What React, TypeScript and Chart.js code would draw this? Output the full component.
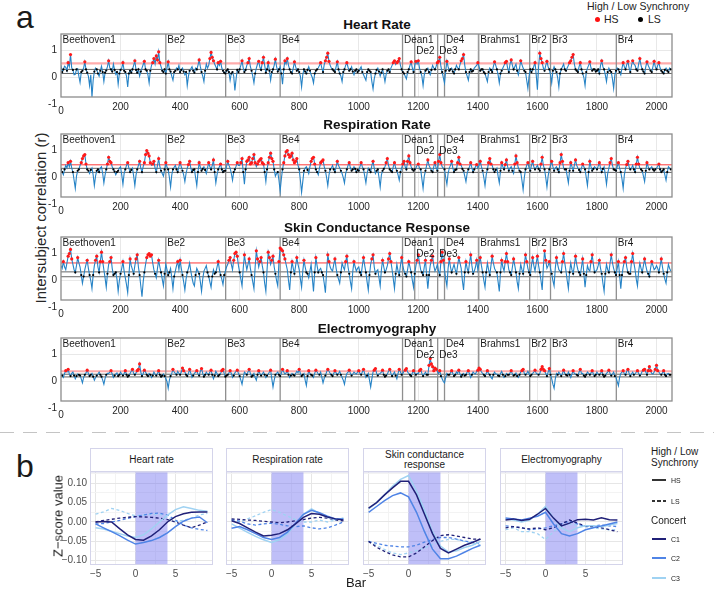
import React, { useEffect, useRef } from 'react';
import { Chart, registerables } from 'chart.js';

Chart.register(...registerables);

const FONT = '"Liberation Sans", Arial, Helvetica, sans-serif';

// ---------------- Panel a : intersubject correlation per bar ----------------
const BAR_STEP = 4; // one sample every 4 bars
const BAR_MAX = 2052;
const BAR_TICKS = [200, 400, 600, 800, 1000, 1200, 1400, 1600, 1800, 2000];
const R_TICKS = [0, 1];
const R_RANGE = [-0.72, 1.61];
const SECTION_STARTS = [0, 352, 553, 736, 1147, 1188, 1265, 1288, 1403, 1574, 1644, 1865];
const SECTION_NAMES = ['Beethoven1', 'Be2', 'Be3', 'Be4', 'Dean1', 'De2', 'De3', 'De4', 'Brahms1', 'Br2', 'Br3', 'Br4'];
const SECTION_ROWS = [0, 0, 0, 0, 0, 1, 1, 0, 0, 0, 0, 0];
const PANEL_TITLES = ['Heart Rate', 'Respiration Rate', 'Skin Conductance Response', 'Electromyography'];

const HR_R = [
  .45,.20,.30,.42,.38,.25,.55,.40,.85,.35,.28,.10,.12,.30,.33,.05,-.18,.20,.25,.35,.58,.30,.18,.05,-.30,.10,-.72,-.10,.22,.35,.30,.15,.05,.25,.42,.20,-.15,.18,.26,.40,.62,.35,.30,.22,.50,.28,.12,.20,-.25,.15,
  .28,.35,.55,.25,.20,.05,-.35,.15,.25,.18,.30,.45,.62,.28,.18,.30,.05,.22,.35,.48,.60,.30,.25,.10,-.20,.25,.45,.55,.70,.50,.80,.65,.95,.55,.40,.25,.20,.30,.15,.35,.58,.30,.22,.05,-.10,.20,.25,.35,.30,.45,
  .20,.28,.35,.22,.10,.20,-.30,.05,.25,.32,.40,.25,.18,.35,.30,.45,.65,.40,.20,.05,-.15,.25,.50,.35,.45,.70,.93,.75,.62,.50,.40,.30,.55,.45,.60,.35,.25,.18,.15,.25,.30,.20,-.10,.15,.20,.05,-.48,-.05,.28,.20,
  .30,.45,.62,.35,.20,.28,.45,.55,.70,.40,.25,.05,-.20,.15,.35,.50,.60,.38,.28,.55,.75,.45,.18,.30,.55,.25,-.10,.20,.30,.45,.68,.40,.22,.30,.40,.15,-.25,.30,.62,.50,.70,.45,.30,.20,.15,.35,.58,.40,.25,.30,
  .20,.05,-.35,.10,.30,.22,.15,.28,.40,.25,.10,.00,-.20,.15,.25,.30,.35,.45,.55,.35,.20,.48,.62,.75,.90,.60,.45,.35,.30,.25,.20,.40,.58,.30,.15,.05,-.15,.20,.30,.45,.55,.38,.25,.30,.40,.22,.10,.25,.30,.20,
  .25,.32,.40,.20,.10,.00,-.10,.20,.30,.25,.20,-.15,-.42,-.05,.15,.28,.35,.22,.05,.18,.30,.10,-.15,.12,.25,.30,.20,.35,.45,.55,.62,.48,.55,.60,.70,.45,.30,.20,.15,.05,-.05,.20,.30,.45,.58,.35,.20,.45,.60,.50,
  .62,.35,.20,.05,-.30,.10,.25,.30,.35,.20,.10,.28,.45,.35,.30,.42,.55,.60,.75,.40,.20,.00,-.20,.25,.60,.40,.25,.30,.35,.22,.15,.30,.45,.35,.30,.48,.62,.70,.85,.45,.20,.05,-.10,.20,.30,.22,.25,.35,.40,.45,
  .55,.40,.25,.30,.30,.20,.15,.00,-.15,.20,.35,.28,.20,.40,.58,.45,.30,.10,-.20,.15,.25,.35,.45,.55,.60,.35,.20,.50,.65,.45,.30,.40,.50,.25,.10,.35,.62,.48,.35,.25,.20,-.10,-.40,.05,.30,.20,.30,.42,.55,.10,
  -.45,.40,.90,.70,.55,.35,.25,.45,.60,.40,.30,.10,-.20,.25,.40,.30,.20,.00,-.35,.15,.30,.40,.50,.30,.25,.35,.45,.55,.62,.75,.85,.50,.30,.25,.20,.40,.55,.30,.15,.00,-.30,.20,.35,.45,.58,.35,.25,.30,.30,.22,
  .25,.30,.15,.45,.62,.40,.30,.10,-.15,.20,.35,.25,.20,-.05,-.40,.10,.25,.35,.30,.20,.10,.35,.55,.40,.30,.48,.60,.35,.20,.45,.62,.50,.45,.30,.25,.50,.70,.45,.30,.22,.15,.40,.58,.45,.35,.25,.20,.40,.60,.40,
  .30,.45,.55,.35,.25,.20,.15,.28,.35,.25,.20,.35,.30,
];
const RESP_R = [
  .30,.20,.10,.30,.45,.35,.55,.40,.60,.35,.20,-.10,-.40,.05,.25,.30,.45,.55,.70,.80,.85,.50,.30,.25,.15,.28,.35,.10,-.30,.05,.25,.30,.20,.35,.40,.15,-.20,.10,.30,.50,.75,.60,.55,.40,.30,.22,.10,.20,.25,.35,
  .40,.10,-.25,.15,.30,.45,.55,.35,.20,.28,.35,.05,-.30,.10,.30,.45,.60,.35,.20,.40,.55,.85,1.0,.90,.80,.55,.45,.50,.60,.35,.20,.45,.70,.40,.25,.15,.05,.30,.55,.40,.30,.00,-.35,.10,.30,.38,.45,.30,.20,.40,
  .55,.40,.25,.10,-.15,.15,.35,.48,.60,.35,.20,.28,.30,.00,-.30,.20,.55,.38,.25,.32,.40,.28,.15,.35,.55,.40,.30,.45,.65,.20,-.20,.10,.30,.40,.50,.30,.20,.25,.25,.40,.60,.45,.35,.15,-.10,.20,.30,.42,.55,.45,
  .45,.55,.70,.20,-.25,.30,.60,.65,.75,.50,.55,.70,.85,.55,.40,.50,.60,.65,.70,.55,.50,.20,-.15,.30,.55,.75,.90,.70,.60,.30,.05,.15,.20,-.10,-.50,-.05,.30,.55,.80,.95,1.0,.85,.75,.80,.90,.65,.55,.60,.70,.45,
  .30,-.10,-.55,-.15,.25,.35,.40,.28,.15,.40,.60,.70,.75,.50,.30,.20,.10,.35,.55,.60,.65,.40,.25,.00,-.30,.10,.30,.35,.45,.30,.20,.40,.60,.45,.35,.25,.15,.00,-.20,.15,.30,.45,.55,.35,.25,.30,.40,.32,.20,.28,
  .25,.40,.55,.40,.30,.05,-.20,.15,.35,.28,.20,.45,.60,.35,.15,.25,.30,.00,-.35,.10,.25,.32,.40,.55,.70,.45,.30,.25,.20,.40,.55,.35,.25,.10,-.10,.20,.35,.50,.60,.40,.30,.60,.80,.55,.40,.30,.25,.30,.35,.45,
  .50,.35,.30,-.05,-.40,.05,.25,.45,.65,.45,.35,.25,.20,.40,.55,.35,.25,.60,.85,.55,.40,.35,.30,.00,-.25,.15,.35,.45,.60,.35,.20,.28,.30,.55,.75,.50,.45,.32,.25,.05,-.15,.15,.30,.40,.55,.35,.20,.30,.40,.48,
  .35,.45,.60,.40,.25,.00,-.30,.10,.30,.55,.70,.50,.45,.30,.20,.28,.35,.05,-.20,.25,.55,.40,.30,.48,.65,.40,.25,.35,.40,.25,.15,.50,.80,.55,.35,.25,.20,-.10,-.45,.00,.30,.45,.55,.35,.25,.45,.60,.40,.30,.38,
  .45,.32,.25,.50,.75,.45,.30,.00,-.35,.05,.30,.45,.60,.40,.25,.35,.40,.30,.20,.55,.85,.60,.35,.30,.30,.05,-.20,.25,.55,.40,.25,.45,.65,.45,.35,.28,.20,.35,.50,.40,.30,.00,-.30,.20,.60,.40,.25,.32,.40,.35,
  .30,.42,.55,.35,.20,.32,.40,.10,-.25,.15,.35,.55,.70,.45,.30,.28,.25,.40,.55,.35,.20,-.05,-.40,.10,.35,.48,.60,.40,.30,.35,.45,.30,.20,.50,.75,.50,.35,.30,.25,.05,-.15,.25,.55,.40,.30,.35,.40,.30,.25,.30,
  .35,.42,.50,.30,.20,.25,.30,.10,-.10,.20,.40,.35,.30,
];
const SCR_R = [
  .55,.45,.70,.50,.40,.65,.90,1.0,1.15,.80,.60,.40,.30,.55,.85,.65,.50,.20,-.10,.15,.40,.60,.75,.45,.20,.00,-.30,.20,.55,.75,.90,.50,.30,.70,1.05,.70,.40,.10,-.25,.25,.60,.70,.85,.45,.20,.25,.30,.05,-.40,.00,
  .25,.45,.70,.35,.10,-.15,-.45,.20,.80,.55,.40,.25,.55,.80,.95,.50,.20,-.20,-.60,-.05,.30,.60,.85,.95,1.0,.90,.95,.65,.40,.25,.10,.45,.75,.50,.30,.05,-.20,.25,.60,.40,.20,.30,.45,.10,-.30,.15,.35,.55,.70,.40,
  .75,.45,.20,-.05,-.35,.05,.30,.45,.65,.35,.10,-.10,-.20,.20,.45,.35,.25,-.05,-.40,.05,.35,.45,.55,.30,.15,-.05,-.25,.15,.40,.25,.30,.50,.70,.40,.20,.05,-.15,.20,.35,.50,.60,.75,.85,.60,.40,.75,1.0,1.05,.90,.55,
  .30,.05,-.20,.45,.95,.65,.40,.60,.80,.45,.20,-.05,-.30,.50,1.1,.80,.50,.70,.85,.55,.30,-.10,-.40,.40,1.05,.85,.60,.75,.90,.50,.25,.00,-.20,.70,1.2,1.15,1.1,.95,.80,.60,.40,.00,-.35,.30,.70,.45,.25,.55,.85,.60,
  .40,.05,-.25,.35,.75,.50,.30,.25,.10,.35,.60,.10,-.40,.30,.85,.55,.30,.40,.45,.30,.20,-.10,-.45,.35,.95,.70,.50,.40,.35,.60,.80,.45,.20,.05,-.10,.30,.65,.50,.40,.70,.90,.50,.25,-.05,-.30,.35,.70,.50,.35,.45,
  .50,.30,.20,.55,.85,.55,.30,-.05,-.35,.20,.60,.80,.95,.50,.25,.35,.40,.10,-.20,.40,.75,.50,.30,.40,.55,.80,1.0,.70,.40,.05,-.30,.25,.60,.35,.20,.55,.85,.55,.35,.25,.15,.40,.70,.50,.30,.00,-.25,.25,.55,.75,
  .95,.65,.40,.30,.20,.50,.75,.20,-.30,.20,.55,.75,.90,.55,.35,.45,.60,.35,.20,.70,1.05,.75,.40,.05,-.20,.45,.80,.50,.30,.45,.60,.40,.25,.55,.85,.65,.45,.00,-.35,.30,.70,.45,.30,.65,.95,.55,.25,.35,.50,.75,
  .40,.65,.85,.55,.30,.00,-.25,.30,.65,.40,.20,.55,.90,.65,.45,.35,.30,-.05,-.40,.30,.75,.50,.35,.70,1.0,.70,.40,.30,.20,.50,.80,.55,.30,-.05,-.30,.25,.60,.40,.25,.60,.95,.70,.45,.30,.20,.55,.85,.55,.35,.65,
  .90,.55,.30,.00,-.35,.50,1.1,.75,.45,.55,.70,.45,.25,.00,-.20,.45,.85,.60,.40,.35,.30,.70,1.0,.65,.35,.00,-.30,.30,.65,.40,.25,.55,.90,.60,.40,.30,.20,.50,.80,.25,-.25,.20,.55,.40,.35,.70,.95,.60,.30,.35,
  .40,.55,.75,.45,.25,-.10,-.40,.25,.60,.40,.30,.65,.95,.65,.45,.30,.20,.45,.70,.20,-.30,.20,.50,.70,.85,.50,.30,.25,.25,.70,1.0,.65,.40,.05,-.20,.35,.65,.45,.30,.55,.80,.55,.35,.25,.15,.45,.70,.55,.40,.45,
  .55,.45,.30,.55,.80,.50,.25,.05,-.10,.30,.60,.45,.35,
];
const EMG_R = [
  .30,.22,.15,.30,.40,.35,.45,.28,.20,.30,.35,.22,.10,.20,.28,.25,.22,.10,-.05,.15,.25,.32,.42,.30,.20,.25,.30,.18,.05,.15,.22,.28,.35,.25,.18,.05,-.10,.12,.25,.30,.30,.35,.40,.28,.15,.22,.28,.32,.20,.25,
  .35,.28,.22,.30,.40,.25,.18,.22,.30,.38,.45,.30,.25,.32,.40,.45,.65,.35,.20,.30,.42,.35,.25,.20,.30,.25,.15,.22,.35,.28,.22,.30,.40,.25,.18,.22,.28,.20,.10,.00,-.25,.05,.20,.30,.45,.35,.30,.25,.38,.30,
  .25,.35,.50,.40,.35,.25,.20,.30,.45,.30,.15,.22,.30,.35,.40,.28,.22,.38,.48,.30,.18,.25,.35,.28,.25,.35,.42,.25,.10,.22,.38,.30,.20,.25,.30,.40,.45,.30,.18,.22,.25,.32,.40,.30,.15,.22,.32,.38,.42,.30,
  .20,.05,-.10,.15,.35,.30,.25,.35,.45,.30,.18,.22,.30,.15,.05,.25,.40,.30,.22,.28,.35,.25,.15,.22,.28,.35,.42,.10,-.20,.05,.25,.30,.35,.25,.20,.30,.45,.35,.28,.32,.40,.25,.15,.22,.30,.25,.22,.30,.38,.32,
  .45,.30,.20,.25,.30,.05,-.15,.20,.40,.30,.25,.22,.15,.30,.42,.35,.28,.25,.35,.15,-.05,.12,.22,.35,.45,.38,.30,.25,.20,.30,.40,.32,.25,.30,.38,.25,.15,.05,-.10,.15,.30,.35,.42,.30,.22,.28,.35,.30,.28,.35,
  .40,.30,.25,.35,.45,.28,.15,.22,.30,.05,-.20,.10,.35,.42,.48,.30,.22,.28,.30,.35,.42,.25,.18,.22,.28,.38,.45,.30,.20,.28,.35,.22,.10,.30,.45,.35,.25,.30,.38,.42,.48,.35,.30,.25,.20,.32,.40,.30,.25,.30,
  .30,.40,.45,.30,.20,.28,.35,.25,.25,.60,.85,.65,.55,.40,.50,.45,.38,.30,.40,.20,.10,.00,-.05,.15,.30,.25,.25,.32,.40,.30,.20,.25,.35,.30,.42,.28,.18,.25,.30,.22,.25,.35,.40,.28,.15,.25,.35,.30,.28,.38,
  .42,.50,.45,.35,.30,.25,.20,.30,.40,.30,.25,.15,.10,.25,.35,.28,.28,.22,.20,.30,.38,.25,.15,.20,.30,.25,.25,.32,.40,.28,.22,.25,.32,.20,.15,.25,.35,.40,.45,.30,.25,.30,.38,.28,.20,.25,.30,.35,.42,.30,
  .28,.25,.30,.45,.55,.45,.40,.30,.20,.35,.48,.25,.10,-.10,-.25,.10,.30,.25,.35,.28,.20,.30,.42,.30,.25,.22,.35,.25,.15,.28,.40,.30,.28,.25,.22,.35,.45,.30,.30,.22,.18,.25,.35,.30,.25,.32,.40,.28,.20,.25,
  .35,.28,.25,.30,.40,.25,.18,.22,.30,.35,.42,.30,.22,.28,.35,.20,.15,.00,-.15,.15,.30,.35,.40,.28,.25,.38,.45,.30,.20,.28,.35,.25,.28,.35,.40,.30,.22,.28,.38,.42,.45,.35,.25,.40,.55,.40,.30,.28,.35,.45,
  .60,.40,.35,.28,.25,.32,.40,.25,.20,.28,.30,.25,.25,
];
// [HS threshold, LS band low, LS band high]
const HR_LEVELS = [0.52, 0.15, 0.30];
const RESP_LEVELS = [0.47, 0.19, 0.34];
const SCR_LEVELS = [0.65, 0.14, 0.32];
const EMG_LEVELS = [0.38, 0.17, 0.27];

// ---------------- Panel b : z-scores around peaks ----------------
const LAG_BARS = [-5, -4, -3, -2, -1, 0, 1, 2, 3, 4, 5, 6, 7, 8, 9];
const LAG_MAJOR = [-5, 0, 5];
const LAG_MINOR = [-2.5, 2.5, 7.5];
const Z_MAJOR = [-0.1, -0.05, 0, 0.05, 0.1];
const Z_MINOR = [-0.075, -0.025, 0.025, 0.075, 0.125];
const Z_RANGE = [-0.111, 0.129];
const LAG_RANGE = [-5.7, 9.7];
const PEAK_WINDOW = [0, 4];
const FACET_TITLES = ['Heart rate', 'Respiration rate', 'Skin conductance\nresponse', 'Electromyography'];

const HR_C1_HS = [0.000, 0.001, 0.000, -0.017, -0.033, -0.045, -0.047, -0.036, -0.020, 0.000, 0.014, 0.021, 0.025, 0.026, 0.026];
const HR_C2_HS = [-0.005, -0.015, -0.025, -0.035, -0.047, -0.057, -0.053, -0.048, -0.040, -0.028, -0.012, 0.002, 0.010, 0.013, -0.002];
const HR_C3_HS = [-0.015, -0.018, -0.024, -0.030, -0.036, -0.040, -0.033, -0.018, 0.000, 0.018, 0.032, 0.039, 0.035, 0.030, 0.028];
const HR_C1_LS = [0.000, 0.004, 0.007, 0.010, 0.012, 0.014, 0.013, 0.012, 0.010, 0.006, 0.000, -0.008, -0.015, -0.008, 0.000];
const HR_C2_LS = [-0.005, -0.004, 0.000, 0.004, 0.009, 0.014, 0.018, 0.022, 0.023, 0.018, 0.005, -0.008, -0.015, -0.019, -0.022];
const HR_C3_LS = [0.020, 0.026, 0.035, 0.030, 0.022, 0.016, 0.018, 0.020, 0.020, 0.012, 0.002, 0.004, 0.010, 0.018, 0.022];

const RESP_C1_HS = [0.003, -0.004, -0.015, -0.026, -0.036, -0.034, -0.030, -0.020, -0.005, 0.012, 0.022, 0.020, 0.013, 0.008, 0.005];
const RESP_C2_HS = [-0.016, -0.012, -0.020, -0.030, -0.040, -0.045, -0.040, -0.026, -0.003, 0.020, 0.030, 0.024, 0.015, 0.008, 0.008];
const RESP_C3_HS = [-0.005, -0.016, -0.027, -0.037, -0.046, -0.053, -0.046, -0.030, -0.006, 0.020, 0.034, 0.022, 0.012, 0.006, 0.010];
const RESP_C1_LS = [0.008, 0.007, 0.005, 0.004, 0.002, 0.000, -0.002, 0.000, 0.003, 0.006, 0.010, 0.012, 0.010, 0.005, 0.003];
const RESP_C2_LS = [0.006, 0.002, -0.005, -0.008, -0.005, -0.003, -0.006, -0.010, -0.012, -0.010, -0.015, -0.018, -0.015, -0.008, 0.000];
const RESP_C3_LS = [0.005, 0.000, 0.008, 0.016, 0.025, 0.032, 0.025, 0.015, 0.006, 0.000, 0.000, 0.005, 0.000, 0.005, 0.010];

const SCR_C1_HS = [0.036, 0.050, 0.070, 0.088, 0.105, 0.105, 0.070, 0.020, -0.030, -0.068, -0.080, -0.070, -0.060, -0.053, -0.044];
const SCR_C2_HS = [0.025, 0.040, 0.055, 0.068, 0.075, 0.065, 0.025, -0.025, -0.070, -0.095, -0.095, -0.088, -0.078, -0.068, -0.060];
const SCR_C3_HS = [0.034, 0.050, 0.070, 0.092, 0.110, 0.120, 0.080, 0.030, -0.025, -0.062, -0.078, -0.074, -0.066, -0.060, -0.050];
const SCR_C1_LS = [-0.050, -0.065, -0.076, -0.085, -0.090, -0.090, -0.080, -0.064, -0.048, -0.035, -0.033, -0.036, -0.040, -0.044, -0.045];
const SCR_C2_LS = [-0.050, -0.055, -0.060, -0.062, -0.064, -0.064, -0.060, -0.052, -0.045, -0.040, -0.040, -0.044, -0.049, -0.052, -0.055];
const SCR_C3_LS = [-0.050, -0.060, -0.071, -0.080, -0.084, -0.080, -0.074, -0.067, -0.058, -0.050, -0.045, -0.045, -0.050, -0.055, -0.060];

const EMG_C1_HS = [0.005, 0.008, 0.004, 0.007, 0.020, 0.035, 0.010, -0.010, -0.003, 0.006, 0.007, 0.005, 0.011, 0.006, 0.005];
const EMG_C2_HS = [0.010, 0.008, 0.005, 0.010, 0.015, 0.025, -0.005, -0.030, -0.036, -0.030, -0.020, -0.015, -0.010, -0.005, 0.000];
const EMG_C3_HS = [0.008, 0.005, 0.000, 0.005, 0.020, 0.040, 0.010, -0.015, -0.025, -0.015, -0.010, -0.010, -0.012, -0.008, -0.004];
const EMG_C1_LS = [-0.015, -0.012, -0.015, -0.018, -0.015, -0.020, -0.015, -0.005, 0.005, -0.003, -0.010, -0.012, -0.015, -0.020, -0.025];
const EMG_C2_LS = [-0.010, -0.012, -0.015, -0.020, -0.018, -0.015, -0.010, -0.005, 0.002, -0.005, -0.012, -0.010, -0.008, -0.010, -0.012];
const EMG_C3_LS = [-0.020, -0.015, -0.025, -0.025, -0.030, -0.045, -0.025, -0.010, -0.005, -0.008, -0.012, -0.015, -0.018, -0.020, -0.020];

const C1 = '#202078';
const C2 = '#4f84e6';
const C3 = '#9fd2f2';

// ---------------- helpers ----------------
function ChartBox({ left, top, width, height, build }: any) {
  const ref = useRef<HTMLCanvasElement>(null);
  useEffect(() => {
    const chart = new Chart(ref.current as HTMLCanvasElement, build());
    return () => chart.destroy();
  }, []);
  return (
    <canvas
      ref={ref}
      width={width}
      height={height}
      style={{ position: 'absolute', left, top, width, height }}
    />
  );
}

function hline(ctx: CanvasRenderingContext2D, x0: number, x1: number, y: number) {
  ctx.beginPath();
  ctx.moveTo(x0, y);
  ctx.lineTo(x1, y);
  ctx.stroke();
}

const noPad = (s: any) => {
  s.paddingTop = 0;
  s.paddingBottom = 0;
  s.paddingLeft = 0;
  s.paddingRight = 0;
};

function buildPanelA(values: number[], levels: number[], soft: boolean) {
  const pts = values.map((v, i) => ({ x: i * BAR_STEP, y: v }));
  const hs = pts.filter((p) => p.y > levels[0]);
  const ls = pts.filter((p) => p.y >= levels[1] && p.y <= levels[2]);
  const decor = {
    id: 'decor',
    beforeDatasetsDraw(chart: any) {
      const { ctx, chartArea: a, scales } = chart;
      const x = scales.x, y = scales.y;
      ctx.save();
      ctx.strokeStyle = soft ? 'rgba(255,70,70,0.45)' : 'rgba(255,20,20,0.85)';
      ctx.lineWidth = soft ? 2.2 : 1;
      hline(ctx, a.left, a.right, y.getPixelForValue(levels[0]));
      ctx.strokeStyle = 'rgba(50,50,50,0.75)';
      ctx.lineWidth = 1;
      hline(ctx, a.left, a.right, y.getPixelForValue(levels[1]));
      hline(ctx, a.left, a.right, y.getPixelForValue(levels[2]));
      ctx.strokeStyle = '#8f8f8f';
      ctx.lineWidth = 1.3;
      SECTION_STARTS.slice(1).forEach((b) => {
        const px = x.getPixelForValue(b);
        ctx.beginPath();
        ctx.moveTo(px, a.top);
        ctx.lineTo(px, a.bottom);
        ctx.stroke();
      });
      ctx.restore();
    },
    afterDatasetsDraw(chart: any) {
      const { ctx, chartArea: a, scales } = chart;
      const x = scales.x, y = scales.y;
      ctx.save();
      ctx.strokeStyle = '#8c8c8c';
      ctx.lineWidth = 1.3;
      ctx.strokeRect(a.left, a.top, a.right - a.left, a.bottom - a.top);
      ctx.font = `10px ${FONT}`;
      ctx.fillStyle = '#1a1a1a';
      ctx.textBaseline = 'top';
      ctx.textAlign = 'left';
      SECTION_STARTS.forEach((b, i) => {
        ctx.fillText(SECTION_NAMES[i], x.getPixelForValue(b) + 1.5, a.top + 1.5 + SECTION_ROWS[i] * 10.5);
      });
      ctx.fillStyle = '#262626';
      ctx.textBaseline = 'middle';
      ctx.textAlign = 'right';
      ctx.fillText('-1', a.left - 4, y.getPixelForValue(-1));
      ctx.textAlign = 'center';
      ctx.fillText('0', x.getPixelForValue(0), a.bottom + 14);
      ctx.restore();
    },
  };
  return {
    type: 'line',
    data: {
      datasets: [
        { data: hs, showLine: false, pointRadius: 1.6, pointBackgroundColor: '#ff1a1a', pointBorderWidth: 0, pointHoverRadius: 0 },
        { data: ls, showLine: false, pointRadius: 1.1, pointBackgroundColor: '#000', pointBorderWidth: 0, pointHoverRadius: 0 },
        { data: pts, borderColor: '#2683c6', borderWidth: 1.1, pointRadius: 0, pointHoverRadius: 0, tension: 0 },
      ],
    },
    options: {
      animation: false,
      responsive: false,
      events: [],
      layout: { padding: { left: 39, right: 42, top: 4, bottom: 0 } },
      plugins: { legend: { display: false }, tooltip: { enabled: false }, title: { display: false } },
      scales: {
        x: {
          type: 'linear',
          min: 0,
          max: BAR_MAX,
          afterBuildTicks: (s: any) => { s.ticks = BAR_TICKS.map((v) => ({ value: v })); },
          afterFit: (s: any) => { s.height = 22; noPad(s); },
          grid: { color: '#e8e8e8', drawTicks: false, lineWidth: 1 },
          border: { display: false },
          ticks: { font: { family: FONT, size: 10 }, color: '#262626', padding: 4, maxRotation: 0, autoSkip: false, callback: (v: number) => String(v) },
        },
        y: {
          type: 'linear',
          min: R_RANGE[0],
          max: R_RANGE[1],
          afterBuildTicks: (s: any) => { s.ticks = R_TICKS.map((v) => ({ value: v })); },
          afterFit: (s: any) => { s.width = 22; noPad(s); },
          grid: { color: '#e8e8e8', drawTicks: false, lineWidth: 1 },
          border: { display: false },
          ticks: { font: { family: FONT, size: 10 }, color: '#262626', padding: 4, callback: (v: number) => String(v) },
        },
      },
    },
    plugins: [decor],
  };
}

function fmtZ(v: number) {
  const s = Math.abs(v).toFixed(2);
  return v < -1e-9 ? '\u2212' + s : s;
}

function buildPanelB(series: number[][], showY: boolean) {
  const colors = [C1, C2, C3, C1, C2, C3];
  const datasets = series.map((s, k) => ({
    data: LAG_BARS.map((x, i) => ({ x, y: s[i] })),
    borderColor: colors[k],
    borderWidth: k < 3 ? 1.5 : 1.3,
    borderDash: k < 3 ? [] : [3, 2.5],
    pointRadius: 0,
    pointHoverRadius: 0,
    tension: 0,
  }));
  const deco = {
    id: 'deco',
    beforeDatasetsDraw(chart: any) {
      const { ctx, chartArea: a, scales } = chart;
      const x0 = scales.x.getPixelForValue(PEAK_WINDOW[0]);
      const x1 = scales.x.getPixelForValue(PEAK_WINDOW[1]);
      ctx.save();
      ctx.fillStyle = 'rgba(112,112,240,0.45)';
      ctx.fillRect(x0, a.top, x1 - x0, a.bottom - a.top);
      ctx.restore();
    },
    afterDatasetsDraw(chart: any) {
      const { ctx, chartArea: a } = chart;
      ctx.save();
      ctx.strokeStyle = '#d4d4ea';
      ctx.lineWidth = 1;
      ctx.strokeRect(a.left + 0.5, a.top, a.right - a.left - 1, a.bottom - a.top - 0.5);
      ctx.restore();
    },
  };
  const gridColor = (c: any) => (c.tick && c.tick.major ? '#e6e6e6' : '#f3f3f3');
  return {
    type: 'line',
    data: { datasets },
    options: {
      animation: false,
      responsive: false,
      events: [],
      layout: { padding: { left: 5, right: 3, top: 2, bottom: 0 } },
      plugins: { legend: { display: false }, tooltip: { enabled: false } },
      scales: {
        x: {
          type: 'linear',
          min: LAG_RANGE[0],
          max: LAG_RANGE[1],
          afterBuildTicks: (s: any) => {
            s.ticks = [...LAG_MAJOR.map((v) => ({ value: v, major: true })), ...LAG_MINOR.map((v) => ({ value: v, major: false }))];
          },
          afterFit: (s: any) => { s.height = 16; noPad(s); },
          grid: { color: gridColor, drawTicks: false, lineWidth: 1 },
          border: { display: false },
          ticks: {
            font: { family: FONT, size: 10 },
            color: '#4d4d4d',
            padding: 3,
            maxRotation: 0,
            autoSkip: false,
            callback: (v: number) => (LAG_MAJOR.includes(v) ? (v < 0 ? '\u2212' + Math.abs(v) : String(v)) : ''),
          },
        },
        y: {
          type: 'linear',
          min: Z_RANGE[0],
          max: Z_RANGE[1],
          afterBuildTicks: (s: any) => {
            s.ticks = [...Z_MAJOR.map((v) => ({ value: v, major: true })), ...Z_MINOR.map((v) => ({ value: v, major: false }))];
          },
          afterFit: (s: any) => { s.width = 40; noPad(s); },
          grid: { color: gridColor, drawTicks: false, lineWidth: 1 },
          border: { display: false },
          ticks: {
            font: { family: FONT, size: 10 },
            color: '#4d4d4d',
            padding: 3,
            autoSkip: false,
            callback: (v: number) => (showY && Z_MAJOR.some((m) => Math.abs(m - v) < 1e-9) ? fmtZ(v) : ''),
          },
        },
      },
    },
    plugins: [deco],
  };
}

const abs = (o: React.CSSProperties): React.CSSProperties => ({ position: 'absolute', whiteSpace: 'nowrap', ...o });

export default function App() {
  const aTops = [34, 134, 237, 338];
  const aSeries = [HR_R, RESP_R, SCR_R, EMG_R];
  const aLevels = [HR_LEVELS, RESP_LEVELS, SCR_LEVELS, EMG_LEVELS];
  const aSoft = [true, false, false, true];
  const bLefts = [90, 226, 363, 500];
  const bWidth = 123;
  const bSeries = [
    [HR_C1_HS, HR_C2_HS, HR_C3_HS, HR_C1_LS, HR_C2_LS, HR_C3_LS],
    [RESP_C1_HS, RESP_C2_HS, RESP_C3_HS, RESP_C1_LS, RESP_C2_LS, RESP_C3_LS],
    [SCR_C1_HS, SCR_C2_HS, SCR_C3_HS, SCR_C1_LS, SCR_C2_LS, SCR_C3_LS],
    [EMG_C1_HS, EMG_C2_HS, EMG_C3_HS, EMG_C1_LS, EMG_C2_LS, EMG_C3_LS],
  ];
  const dashBg = (c: string) => `repeating-linear-gradient(to right, ${c} 0 3px, transparent 3px 5.5px)`;
  return (
    <div style={{ position: 'absolute', left: 0, top: 0, width: 714, height: 596, background: '#fff', overflow: 'hidden', fontFamily: FONT, color: '#1a1a1a' }}>
      {/* panel a */}
      <div style={abs({ left: 16, top: 1, fontSize: 32, lineHeight: '32px' })}>a</div>
      <div style={abs({ left: 587, top: 0, fontSize: 10.5, lineHeight: '12px', color: '#222' })}>High / Low Synchrony</div>
      <div style={abs({ left: 595, top: 17, width: 5, height: 5, borderRadius: 3, background: '#ff1010' })} />
      <div style={abs({ left: 604, top: 13, fontSize: 10.5, lineHeight: '12px', color: '#222' })}>HS</div>
      <div style={abs({ left: 638, top: 17, width: 5, height: 5, borderRadius: 3, background: '#000' })} />
      <div style={abs({ left: 648, top: 13, fontSize: 10.5, lineHeight: '12px', color: '#222' })}>LS</div>
      <div style={abs({ left: 40, top: 218, fontSize: 15, color: '#262626', transform: 'translate(-50%,-50%) rotate(-90deg)' })}>
        Intersubject correlation (r)
      </div>
      {aTops.map((t, i) => (
        <React.Fragment key={'a' + i}>
          <div style={abs({ left: 377, top: t - 10.5, transform: 'translate(-50%,-50%)', fontSize: 13.5, fontWeight: 'bold', color: '#111' })}>
            {PANEL_TITLES[i]}
          </div>
          <ChartBox left={0} top={t - 4} width={714} height={89} build={() => buildPanelA(aSeries[i], aLevels[i], aSoft[i])} />
        </React.Fragment>
      ))}
      {/* separator */}
      <div style={abs({ left: 0, top: 432, width: 714, height: 1, background: 'repeating-linear-gradient(to right, #c4c4c4 0 14px, transparent 14px 23px)' })} />
      {/* panel b */}
      <div style={abs({ left: 16, top: 450, fontSize: 32, lineHeight: '32px' })}>b</div>
      {bLefts.map((l, i) => (
        <React.Fragment key={'b' + i}>
          <div
            style={{
              position: 'absolute', left: l, top: 448, width: bWidth, height: 24, boxSizing: 'border-box',
              border: '1px solid #d4d4ea', background: '#fff', fontSize: 10, lineHeight: '10.5px', color: '#1a1a1a',
              display: 'flex', alignItems: 'center', justifyContent: 'center', textAlign: 'center', whiteSpace: 'pre',
            }}
          >
            {FACET_TITLES[i]}
          </div>
          <ChartBox left={l - 45} top={470} width={bWidth + 48} height={111} build={() => buildPanelB(bSeries[i], i === 0)} />
        </React.Fragment>
      ))}
      <div style={abs({ left: 58, top: 516, fontSize: 13, transform: 'translate(-50%,-50%) rotate(-90deg)' })}>{'Z\u2212score value'}</div>
      <div style={abs({ left: 356, top: 582, fontSize: 13, transform: 'translate(-50%,-50%)' })}>Bar</div>
      {/* panel b legend */}
      <div style={abs({ left: 651, top: 447, fontSize: 10, lineHeight: '10.5px', whiteSpace: 'pre' })}>{'High / Low\nSynchrony'}</div>
      <div style={abs({ left: 652, top: 479, width: 14, height: 2, background: '#333' })} />
      <div style={abs({ left: 671, top: 475.5, fontSize: 7, lineHeight: '9px' })}>HS</div>
      <div style={abs({ left: 652, top: 500, width: 14, height: 2, background: dashBg('#333') })} />
      <div style={abs({ left: 671, top: 496.5, fontSize: 7, lineHeight: '9px' })}>LS</div>
      <div style={abs({ left: 651, top: 515, fontSize: 10, lineHeight: '12px' })}>Concert</div>
      <div style={abs({ left: 652, top: 538, width: 14, height: 2, background: C1 })} />
      <div style={abs({ left: 671, top: 534.5, fontSize: 7, lineHeight: '9px' })}>C1</div>
      <div style={abs({ left: 652, top: 557, width: 14, height: 2, background: C2 })} />
      <div style={abs({ left: 671, top: 553.5, fontSize: 7, lineHeight: '9px' })}>C2</div>
      <div style={abs({ left: 652, top: 577, width: 14, height: 2, background: C3 })} />
      <div style={abs({ left: 671, top: 573.5, fontSize: 7, lineHeight: '9px' })}>C3</div>
    </div>
  );
}
